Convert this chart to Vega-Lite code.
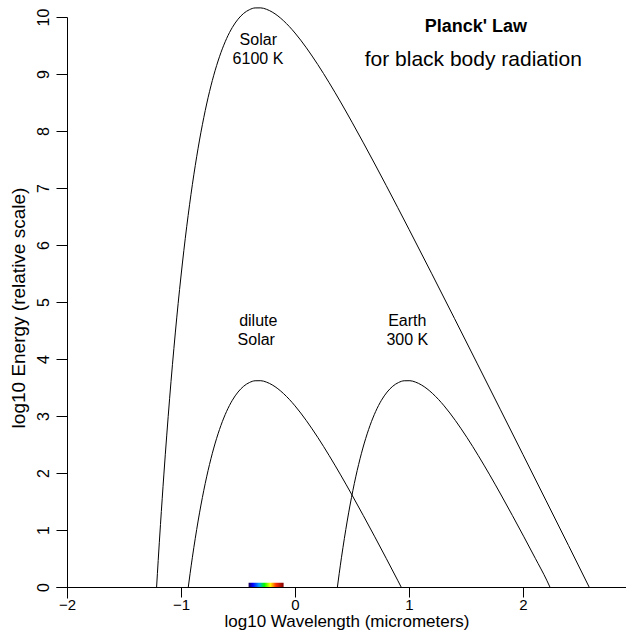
{
  "$schema": "https://vega.github.io/schema/vega-lite/v6.json",
  "width": 581,
  "height": 581,
  "autosize": {"type": "none"},
  "padding": {"left": 56, "top": 17, "right": 0, "bottom": 37},
  "background": "white",
  "config": {"view": {"stroke": null}, "font": "Liberation Sans"},
  "datasets": {
    "curves": [
      {"s": "solar", "u": -1.214, "E": 0},
      {"s": "solar", "u": -1.2, "E": 0.465},
      {"s": "solar", "u": -1.18, "E": 1.096},
      {"s": "solar", "u": -1.15, "E": 1.981},
      {"s": "solar", "u": -1.1, "E": 3.304},
      {"s": "solar", "u": -1.05, "E": 4.457},
      {"s": "solar", "u": -1.0, "E": 5.456},
      {"s": "solar", "u": -0.95, "E": 6.32},
      {"s": "solar", "u": -0.9, "E": 7.063},
      {"s": "solar", "u": -0.85, "E": 7.698},
      {"s": "solar", "u": -0.8, "E": 8.237},
      {"s": "solar", "u": -0.75, "E": 8.69},
      {"s": "solar", "u": -0.7, "E": 9.066},
      {"s": "solar", "u": -0.65, "E": 9.374},
      {"s": "solar", "u": -0.6, "E": 9.622},
      {"s": "solar", "u": -0.55, "E": 9.816},
      {"s": "solar", "u": -0.5, "E": 9.961},
      {"s": "solar", "u": -0.45, "E": 10.064},
      {"s": "solar", "u": -0.4, "E": 10.128},
      {"s": "solar", "u": -0.35, "E": 10.159},
      {"s": "solar", "u": -0.3, "E": 10.16},
      {"s": "solar", "u": -0.25, "E": 10.135},
      {"s": "solar", "u": -0.2, "E": 10.087},
      {"s": "solar", "u": -0.15, "E": 10.019},
      {"s": "solar", "u": -0.1, "E": 9.933},
      {"s": "solar", "u": -0.05, "E": 9.833},
      {"s": "solar", "u": 0.0, "E": 9.719},
      {"s": "solar", "u": 0.05, "E": 9.594},
      {"s": "solar", "u": 0.1, "E": 9.459},
      {"s": "solar", "u": 0.15, "E": 9.315},
      {"s": "solar", "u": 0.2, "E": 9.165},
      {"s": "solar", "u": 0.3, "E": 8.846},
      {"s": "solar", "u": 0.4, "E": 8.508},
      {"s": "solar", "u": 0.5, "E": 8.155},
      {"s": "solar", "u": 0.6, "E": 7.792},
      {"s": "solar", "u": 0.7, "E": 7.421},
      {"s": "solar", "u": 0.8, "E": 7.044},
      {"s": "solar", "u": 0.9, "E": 6.661},
      {"s": "solar", "u": 1.0, "E": 6.275},
      {"s": "solar", "u": 1.2, "E": 5.495},
      {"s": "solar", "u": 1.4, "E": 4.707},
      {"s": "solar", "u": 1.6, "E": 3.914},
      {"s": "solar", "u": 1.8, "E": 3.119},
      {"s": "solar", "u": 2.0, "E": 2.322},
      {"s": "solar", "u": 2.2, "E": 1.524},
      {"s": "solar", "u": 2.4, "E": 0.725},
      {"s": "solar", "u": 2.58, "E": 0},
      {"s": "dilute", "u": -0.936, "E": 0},
      {"s": "dilute", "u": -0.92, "E": 0.239},
      {"s": "dilute", "u": -0.9, "E": 0.522},
      {"s": "dilute", "u": -0.85, "E": 1.157},
      {"s": "dilute", "u": -0.8, "E": 1.696},
      {"s": "dilute", "u": -0.75, "E": 2.149},
      {"s": "dilute", "u": -0.7, "E": 2.525},
      {"s": "dilute", "u": -0.65, "E": 2.833},
      {"s": "dilute", "u": -0.6, "E": 3.081},
      {"s": "dilute", "u": -0.55, "E": 3.275},
      {"s": "dilute", "u": -0.5, "E": 3.42},
      {"s": "dilute", "u": -0.45, "E": 3.523},
      {"s": "dilute", "u": -0.4, "E": 3.587},
      {"s": "dilute", "u": -0.35, "E": 3.618},
      {"s": "dilute", "u": -0.3, "E": 3.619},
      {"s": "dilute", "u": -0.25, "E": 3.594},
      {"s": "dilute", "u": -0.2, "E": 3.546},
      {"s": "dilute", "u": -0.15, "E": 3.478},
      {"s": "dilute", "u": -0.1, "E": 3.392},
      {"s": "dilute", "u": -0.05, "E": 3.292},
      {"s": "dilute", "u": 0.0, "E": 3.178},
      {"s": "dilute", "u": 0.05, "E": 3.053},
      {"s": "dilute", "u": 0.1, "E": 2.918},
      {"s": "dilute", "u": 0.15, "E": 2.774},
      {"s": "dilute", "u": 0.2, "E": 2.624},
      {"s": "dilute", "u": 0.3, "E": 2.305},
      {"s": "dilute", "u": 0.4, "E": 1.967},
      {"s": "dilute", "u": 0.5, "E": 1.614},
      {"s": "dilute", "u": 0.6, "E": 1.251},
      {"s": "dilute", "u": 0.7, "E": 0.88},
      {"s": "dilute", "u": 0.8, "E": 0.503},
      {"s": "dilute", "u": 0.9, "E": 0.12},
      {"s": "dilute", "u": 0.931, "E": 0},
      {"s": "earth", "u": 0.372, "E": 0},
      {"s": "earth", "u": 0.388, "E": 0.239},
      {"s": "earth", "u": 0.408, "E": 0.522},
      {"s": "earth", "u": 0.458, "E": 1.157},
      {"s": "earth", "u": 0.508, "E": 1.696},
      {"s": "earth", "u": 0.558, "E": 2.149},
      {"s": "earth", "u": 0.608, "E": 2.525},
      {"s": "earth", "u": 0.658, "E": 2.833},
      {"s": "earth", "u": 0.708, "E": 3.081},
      {"s": "earth", "u": 0.758, "E": 3.275},
      {"s": "earth", "u": 0.808, "E": 3.42},
      {"s": "earth", "u": 0.858, "E": 3.523},
      {"s": "earth", "u": 0.908, "E": 3.587},
      {"s": "earth", "u": 0.958, "E": 3.618},
      {"s": "earth", "u": 1.008, "E": 3.619},
      {"s": "earth", "u": 1.058, "E": 3.594},
      {"s": "earth", "u": 1.108, "E": 3.546},
      {"s": "earth", "u": 1.158, "E": 3.478},
      {"s": "earth", "u": 1.208, "E": 3.392},
      {"s": "earth", "u": 1.258, "E": 3.292},
      {"s": "earth", "u": 1.308, "E": 3.178},
      {"s": "earth", "u": 1.358, "E": 3.053},
      {"s": "earth", "u": 1.408, "E": 2.918},
      {"s": "earth", "u": 1.458, "E": 2.774},
      {"s": "earth", "u": 1.508, "E": 2.624},
      {"s": "earth", "u": 1.608, "E": 2.305},
      {"s": "earth", "u": 1.708, "E": 1.967},
      {"s": "earth", "u": 1.808, "E": 1.614},
      {"s": "earth", "u": 1.908, "E": 1.251},
      {"s": "earth", "u": 2.008, "E": 0.88},
      {"s": "earth", "u": 2.108, "E": 0.503},
      {"s": "earth", "u": 2.208, "E": 0.12},
      {"s": "earth", "u": 2.236, "E": 0}
    ],
    "spectrum": [{"u": -0.407, "u2": -0.1, "E": 0}],
    "labels": [
      {"text": "Solar", "u": -0.322, "E": 9.6},
      {"text": "6100 K", "u": -0.325, "E": 9.27},
      {"text": "dilute", "u": -0.322, "E": 4.67},
      {"text": "Solar", "u": -0.34, "E": 4.34},
      {"text": "Earth", "u": 0.985, "E": 4.67},
      {"text": "300 K", "u": 0.985, "E": 4.34}
    ],
    "titles": [
      {"text": "Planck' Law", "u": 1.586, "E": 9.82, "w": "bold"},
      {"text": "for black body radiation", "u": 1.564, "E": 9.25, "w": "normal"}
    ]
  },
  "encoding": {
    "x": {
      "field": "u", "type": "quantitative", "title": "log10 Wavelength (micrometers)",
      "scale": {"domain": [-2.0965, 3], "nice": false, "zero": false},
      "axis": {
        "values": [-2, -1, 0, 1, 2, 3], "offset": -11, "grid": false,
        "tickSize": 10, "tickColor": "black", "domainColor": "black",
        "labelColor": "black", "labelFontSize": 15, "labelPadding": 0,
        "labelFont": "Liberation Sans", "labelFlush": false, "labelOverlap": false,
        "titleFontSize": 17, "titleFontWeight": "normal", "titleColor": "black",
        "titleFont": "Liberation Sans", "titlePadding": 1
      }
    },
    "y": {
      "field": "E", "type": "quantitative", "title": "log10 Energy (relative scale)",
      "scale": {"domain": [-0.193, 10], "nice": false, "zero": false},
      "axis": {
        "values": [0, 1, 2, 3, 4, 5, 6, 7, 8, 9, 10], "offset": -11, "grid": false,
        "tickSize": 11, "tickColor": "black", "domainColor": "black",
        "labelColor": "black", "labelFontSize": 16, "labelPadding": 5,
        "labelAngle": -90, "labelAlign": "center", "labelBaseline": "bottom",
        "labelFont": "Liberation Sans", "labelFlush": false, "labelOverlap": false,
        "titleFontSize": 19, "titleFontWeight": "normal", "titleColor": "black",
        "titleFont": "Liberation Sans", "titlePadding": 7
      }
    }
  },
  "layer": [
    {
      "data": {"name": "curves"},
      "mark": {"type": "line", "color": "black", "strokeWidth": 1, "interpolate": "monotone"},
      "encoding": {
        "detail": {"field": "s", "type": "nominal"}
      }
    },
    {
      "data": {"name": "spectrum"},
      "mark": {
        "type": "rect",
        "fill": {
          "gradient": "linear", "x1": 0, "y1": 0, "x2": 1, "y2": 0,
          "stops": [
            {"offset": 0, "color": "#1a0050"},
            {"offset": 0.12, "color": "#0000ff"},
            {"offset": 0.3, "color": "#00a0ff"},
            {"offset": 0.45, "color": "#00ff00"},
            {"offset": 0.62, "color": "#ffff00"},
            {"offset": 0.78, "color": "#ff3000"},
            {"offset": 1, "color": "#800000"}
          ]
        }
      },
      "encoding": {
        "x2": {"field": "u2"},
        "y2": {"datum": 0.075}
      }
    },
    {
      "data": {"name": "labels"},
      "mark": {"type": "text", "fontSize": 16, "color": "black", "align": "center", "baseline": "middle", "font": "Liberation Sans"},
      "encoding": {
        "text": {"field": "text"}
      }
    },
    {
      "data": {"name": "titles"},
      "transform": [{"filter": "datum.w == 'bold'"}],
      "mark": {"type": "text", "fontSize": 18, "fontWeight": "bold", "color": "black", "align": "center", "baseline": "middle", "font": "Liberation Sans"},
      "encoding": {
        "text": {"field": "text"}
      }
    },
    {
      "data": {"name": "titles"},
      "transform": [{"filter": "datum.w == 'normal'"}],
      "mark": {"type": "text", "fontSize": 21, "color": "black", "align": "center", "baseline": "middle", "font": "Liberation Sans"},
      "encoding": {
        "text": {"field": "text"}
      }
    }
  ]
}
